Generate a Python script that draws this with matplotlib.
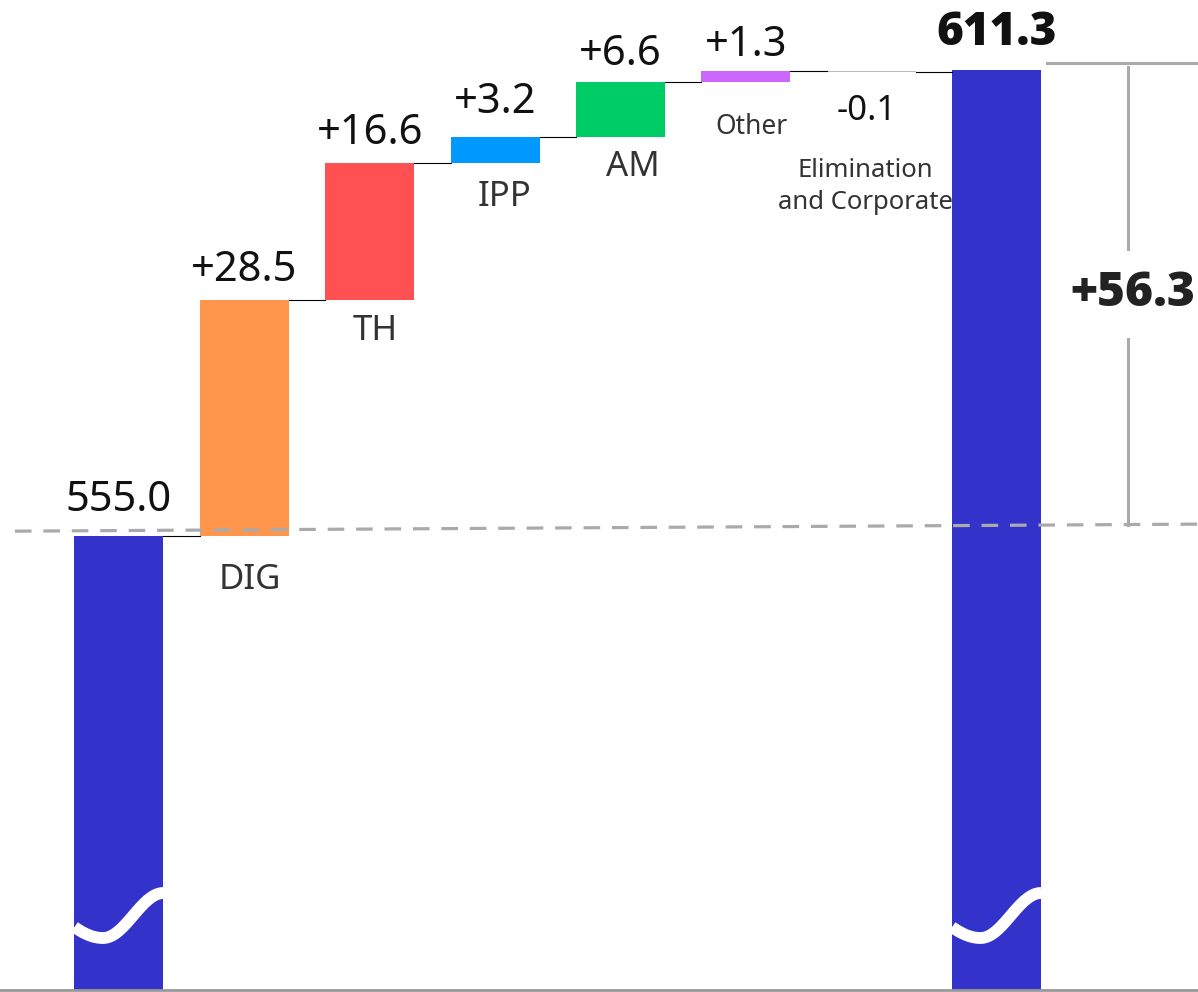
import matplotlib
matplotlib.use("Agg")
import matplotlib.pyplot as plt
import numpy as np

# ---------------- data ----------------
start_label = "555.0"
end_label = "611.3"
start_value = 555.0
end_value = 611.3
categories = ["DIG", "TH", "IPP", "AM", "Other", "Elimination\nand Corporate"]
deltas = [28.5, 16.6, 3.2, 6.6, 1.3, -0.1]
delta_labels = ["+28.5", "+16.6", "+3.2", "+6.6", "+1.3", "-0.1"]
total_change_label = "+56.3"

# ---------------- style ----------------
total_color = "#3333CC"
delta_colors = ["#FF964B", "#FF5151", "#0099FF", "#00CC66", "#CC66FF", "#BBBBBB"]
cat_fontsizes = [25, 25, 25, 25, 19, 18.5]
cat_offsets = [19, 10, 12, 10, 22, 62]    # points below bar bottom
cat_xshift = [4, 4, 7, 9, 4, -4]           # points, horizontal shift of category labels
val_offsets = [14, 14, 17, 12, 11, 16]    # points above bar top (below for negative)
FONT = ["Noto Sans", "DejaVu Sans"]
BOLD_FONT = ["Open Sans", "DejaVu Sans"]
plt.rcParams["font.family"] = FONT

fig = plt.figure(figsize=(11.98, 9.92), dpi=100)
ax = fig.add_axes([0, 2 / 992, 1, 990 / 992])
ymin, ymax = 500.2, 619.8
ax.set_xlim(-0.949, 8.607)
ax.set_ylim(ymin, ymax)
for s in ["top", "left", "right"]:
    ax.spines[s].set_visible(False)
ax.spines["bottom"].set_color("#999999")
ax.spines["bottom"].set_linewidth(2)
ax.set_xticks([])
ax.set_yticks([])

w = 0.71
n = len(deltas)
x_start = 0
x_end = n + 1

# start & end bars
ax.bar(x_start, start_value - ymin, bottom=ymin, width=w, color=total_color, zorder=2)
ax.bar(x_end, end_value - ymin, bottom=ymin, width=w, color=total_color, zorder=2)

# delta bars
cum = start_value
levels = [start_value]
for i, (d, c) in enumerate(zip(deltas, delta_colors)):
    x = i + 1
    bottom = cum if d >= 0 else cum + d
    ax.bar(x, abs(d), bottom=bottom, width=w, color=c, zorder=2)
    cum += d
    levels.append(cum)

# connectors
for i, lvl in enumerate(levels):
    ax.plot([i + w / 2, i + 1 - w / 2], [lvl, lvl], color="black", lw=0.8, zorder=3)

# value labels
ax.annotate(start_label, (x_start, start_value), xytext=(0, 18), textcoords="offset points",
            ha="center", va="baseline", fontsize=30, color="#111111")
ax.annotate(end_label, (x_end, end_value), xytext=(0, 18), textcoords="offset points",
            ha="center", va="baseline", fontsize=33, fontweight=800, family=BOLD_FONT,
            color="#111111")
cum = start_value
for i, (d, lab) in enumerate(zip(deltas, delta_labels)):
    x = i + 1
    top = max(cum, cum + d)
    bot = min(cum, cum + d)
    if d >= 0:
        ax.annotate(lab, (x, top), xytext=(0, val_offsets[i]), textcoords="offset points",
                    ha="center", va="baseline", fontsize=30, color="#111111")
    else:
        ax.annotate(lab, (x, bot), xytext=(-3, -val_offsets[i]), textcoords="offset points",
                    ha="center", va="top", fontsize=25, color="#111111")
    ax.annotate(categories[i], (x, bot), xytext=(cat_xshift[i], -cat_offsets[i]),
                textcoords="offset points", ha="center", va="top",
                fontsize=cat_fontsizes[i], color="#333333", linespacing=1.35)
    cum += d

# dashed baseline
ax.plot([-0.83, 8.607], [start_value + 0.63, start_value + 1.48], color="#AAAAAA", lw=2.3,
        linestyle=(0, (5.2, 3.7)), zorder=4)

# bracket for total change
top_y = end_value + 0.86
bot_y = start_value + 1.36
bx = 8.05
ax.plot([7.40, 8.607], [top_y, top_y], color="#AAAAAA", lw=2.2, zorder=1)
mid = (top_y + bot_y) / 2
gap = 5.4
ax.plot([bx, bx], [top_y - 0.5, mid + gap], color="#AAAAAA", lw=2.2)
ax.plot([bx, bx], [mid - gap, bot_y], color="#AAAAAA", lw=2.2)
ax.text(bx + 0.04, mid, total_change_label, ha="center", va="center", fontsize=34.5,
        fontweight=800, family=BOLD_FONT, color="#222222")

# axis-break waves on total bars
px = (ymax - ymin) / 990.0
t = np.linspace(0, 1, 100)
phi = np.interp(t, [0, 0.32, 1], [-2.6, -np.pi / 2, np.pi / 2])
for xc in (x_start, x_end):
    xs = xc - w / 2 + t * w
    ys = ymin + (990 - (915.5 - 22.5 * np.sin(phi))) * px
    ax.plot(xs, ys, color="white", lw=8.5, solid_capstyle="butt", zorder=5)

fig.savefig("out.png", dpi=100)
